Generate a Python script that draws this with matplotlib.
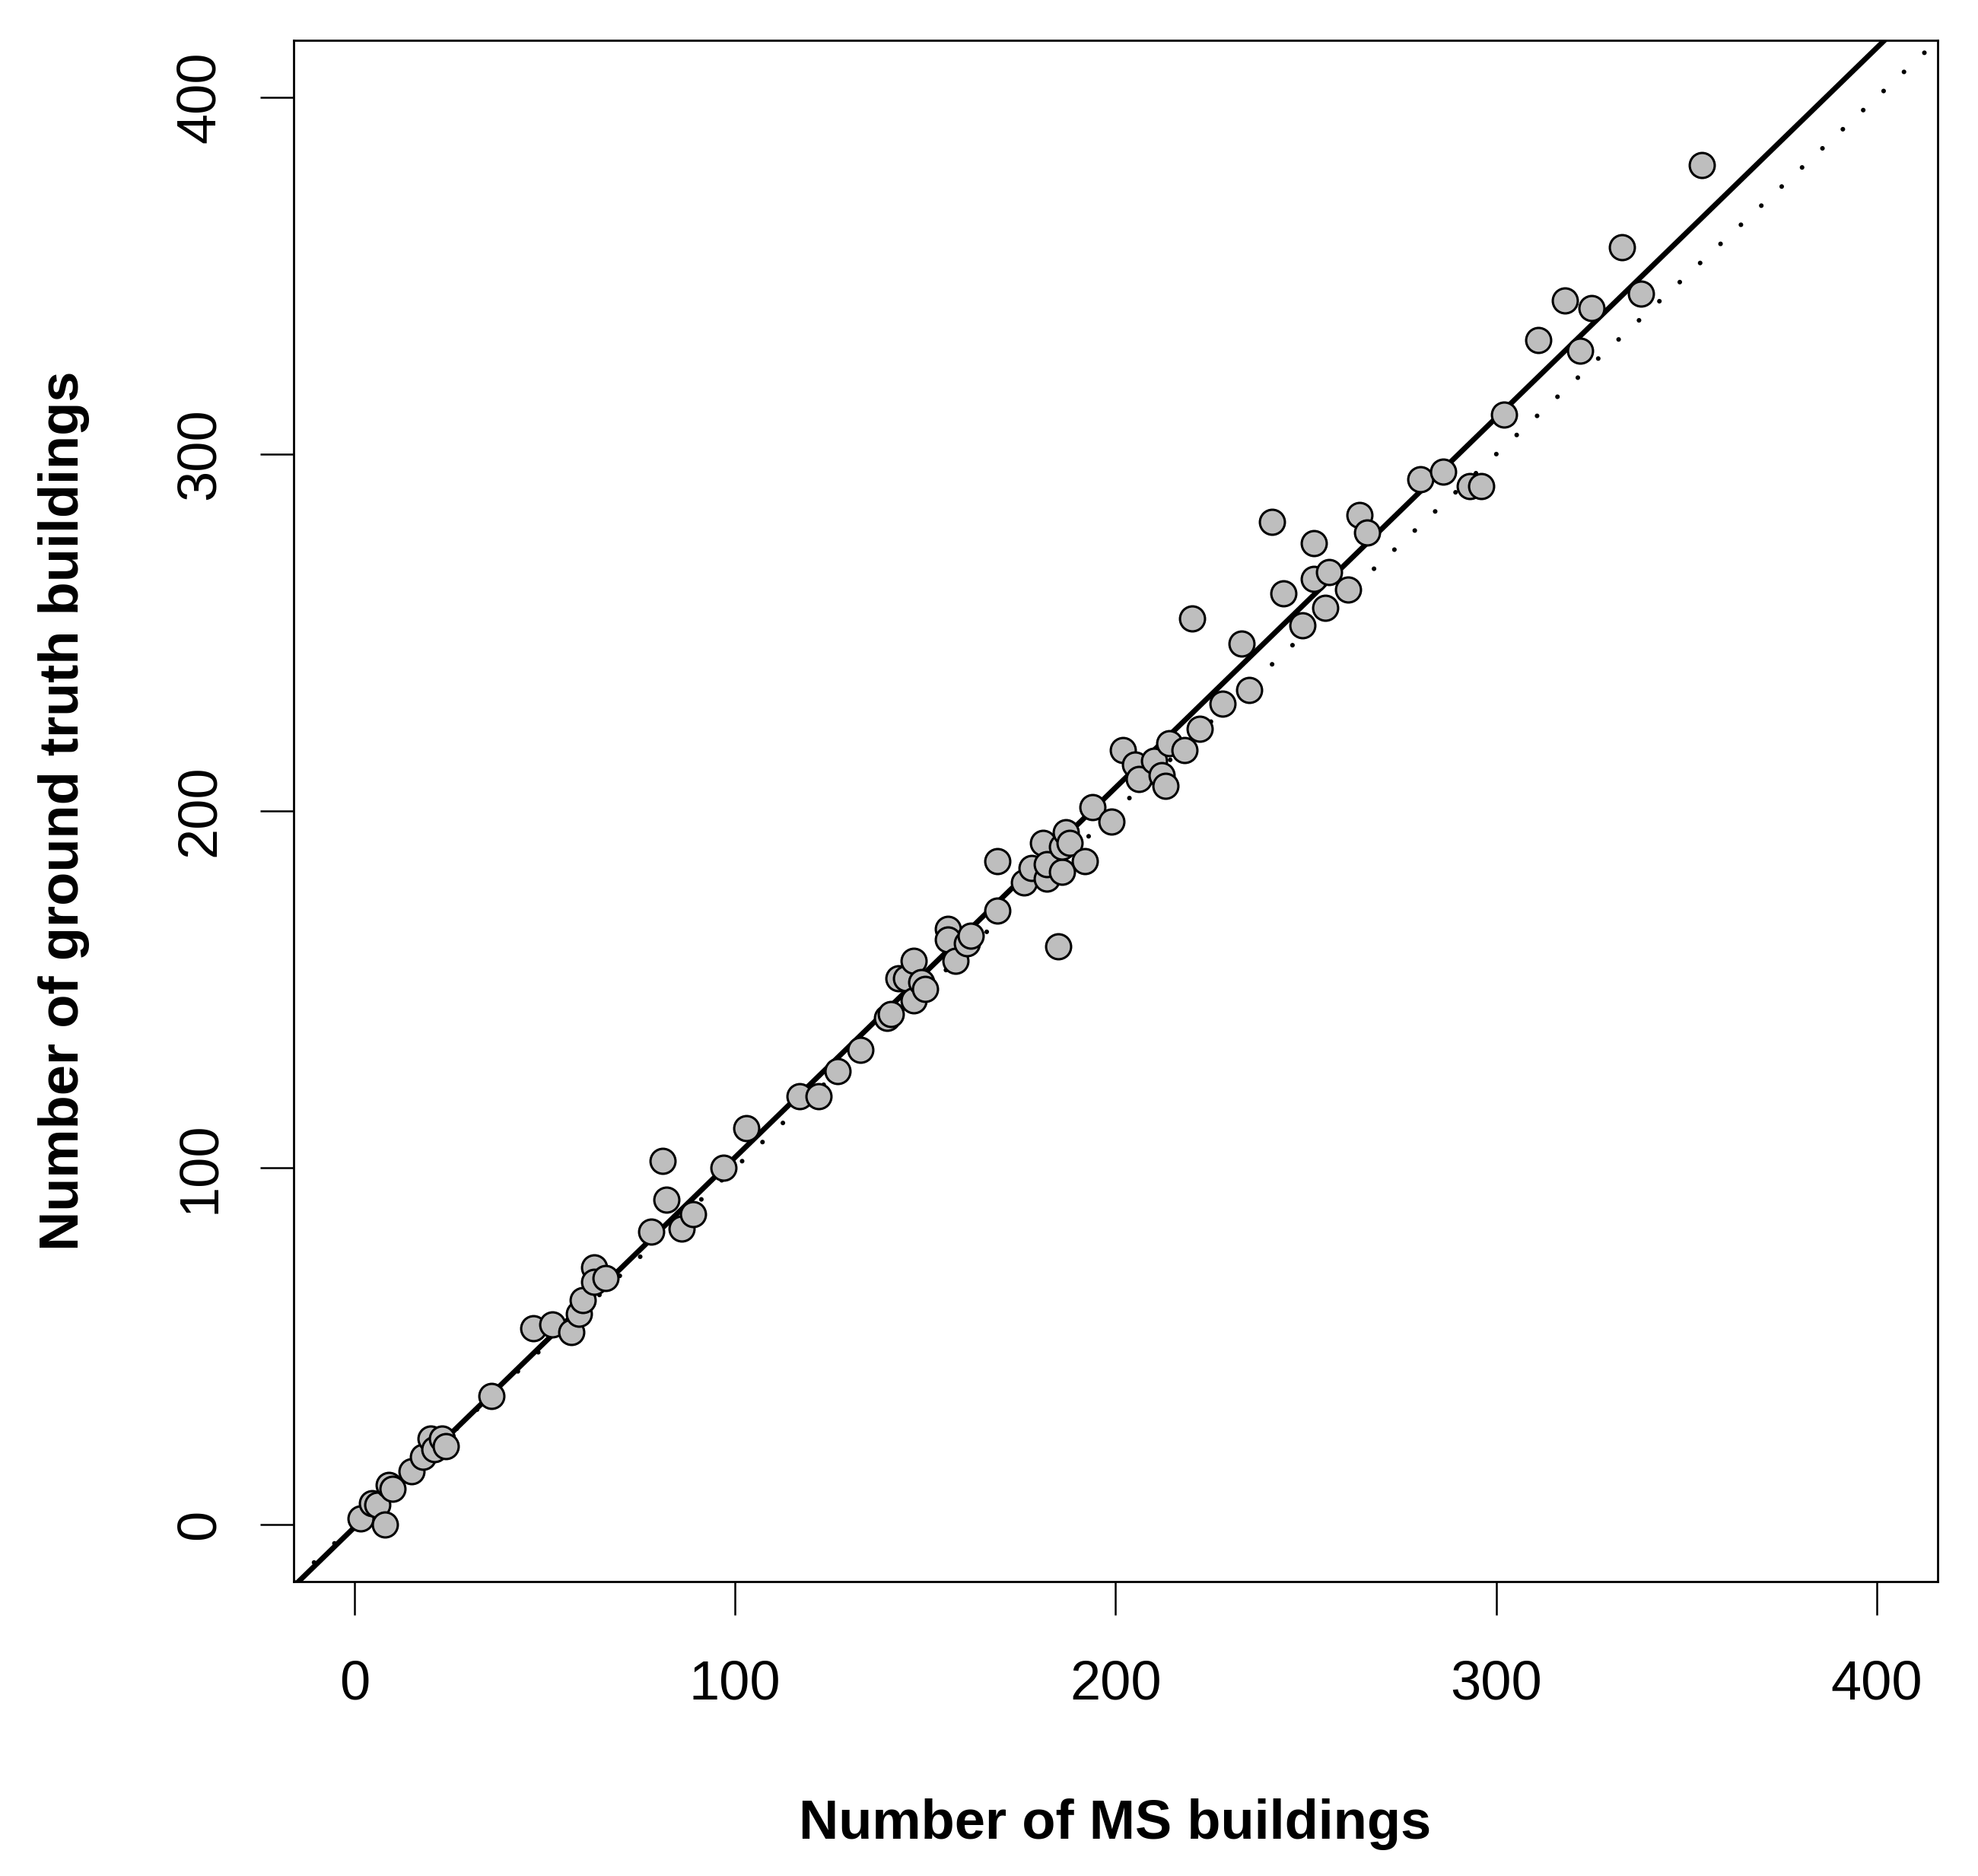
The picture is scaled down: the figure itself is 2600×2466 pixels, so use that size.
"""
Scatter of MS building counts vs ground truth building counts,
with a fitted regression line (solid) and the 1:1 line (dotted).
"""

import matplotlib
matplotlib.use('Agg')
import matplotlib.pyplot as plt
import numpy as np

plt.rcParams['font.family'] = ['Liberation Sans', 'DejaVu Sans']

# Data
ms_buildings = [
    1.5, 4.5, 6, 8, 9, 10, 15, 18, 20, 21, 23, 24, 36,
    47, 52, 57, 59, 60, 63, 63, 66, 78, 81, 82, 86, 89, 97,
    103, 117, 122, 127, 133, 140, 141, 143, 145, 147, 147, 149, 150,
    156, 156, 158, 161, 162, 169, 169, 176, 178, 181, 182, 182, 185,
    186, 186, 187, 188, 192, 194, 199,
    202, 205, 206, 210, 212, 213, 214, 218, 220, 222, 228, 233, 235,
    241, 244, 249, 252, 252, 255, 256, 261, 264, 266,
    280, 286, 293, 296, 302, 311, 318, 322, 325, 333, 338, 354,
]
gt_buildings = [
    1.6, 6, 5.5, 0, 11, 10, 15, 19, 24, 21, 24, 22, 36,
    55, 56, 54, 59, 63, 72, 68, 69, 82, 102, 91, 83, 87, 100,
    111, 120, 120, 127, 133, 142, 143, 153, 153, 158, 147, 152, 150,
    167, 164, 158, 163, 165, 186, 172, 180, 184, 191, 181, 185, 162,
    183, 190, 194, 191, 186, 201, 197,
    217, 213, 209, 214, 210, 207, 219, 217, 254, 223, 230, 247, 234,
    281, 261, 252, 275, 265, 257, 267, 262, 283, 278,
    293, 295, 291, 291, 311, 332, 343, 329, 341, 358, 345, 381,
]

# regression line
fit_intercept = -0.74
fit_slope = 1.0366

ticks = [0, 100, 200, 300, 400]
axis_limits = (-16, 416)

x = np.array(ms_buildings)
y = np.array(gt_buildings)

fig = plt.figure(figsize=(13, 12.33), dpi=200)
ax = fig.add_axes([0.14846, 0.15693, 0.83115, 0.82158])

# 1:1 line (dotted) and fitted line (solid)
ax.axline((0, 0), slope=1, color='black', linewidth=2.2,
          linestyle=(0, (0.01, 6.0)), dash_capstyle='round', zorder=1)
ax.axline((0, fit_intercept), slope=fit_slope, color='black',
          linewidth=2.5, zorder=1.5)

ax.scatter(x, y, s=140, facecolor='#BEBEBE', edgecolor='black',
           linewidths=1.1, zorder=2)

ax.set_xlim(axis_limits)
ax.set_ylim(axis_limits)
ax.set_xticks(ticks)
ax.set_yticks(ticks)

for spine in ax.spines.values():
    spine.set_linewidth(1.0)

ax.tick_params(axis='both', direction='out', length=16, width=0.9,
               labelsize=26)
ax.tick_params(axis='x', pad=21)
ax.tick_params(axis='y', pad=16)
for lab in ax.get_yticklabels():
    lab.set_rotation(90)
    lab.set_verticalalignment('center')

fig.text(0.5638, 0.0199, 'Number of MS buildings', ha='center',
         va='baseline', fontsize=26, fontweight='bold')
fig.text(0.0396, 0.568, 'Number of ground truth buildings', ha='center',
         va='baseline', rotation=90, rotation_mode='anchor',
         fontsize=26, fontweight='bold')

plt.savefig('out.png', dpi=200)
plt.close()
